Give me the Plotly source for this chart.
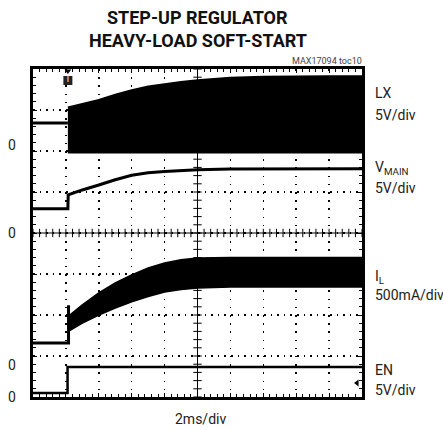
import numpy as np
import plotly.graph_objects as go

# ---- data (scope divisions: x 0..10 div, y 0..8 div) ----
trigger_t = 1.06

lx_pre_t = [0.0, 1.06]
lx_pre = [6.68, 6.68]
lx_t = [1.06, 1.5, 2.0, 2.5, 3.0, 3.5, 4.0, 4.5, 5.0, 6.0, 7.0, 8.0, 9.0, 10.0]
lx_top = [7.07, 7.15, 7.25, 7.38, 7.49, 7.58, 7.64, 7.69, 7.73, 7.79, 7.82, 7.83, 7.83, 7.83]
lx_bot = [5.96, 5.96, 5.96, 5.96, 5.96, 5.96, 5.96, 5.96, 5.96, 5.96, 5.96, 5.96, 5.96, 5.96]

vmain_t = [0.0, 1.06, 1.07, 1.5, 2.0, 2.5, 3.0, 3.5, 4.0, 5.0, 6.0, 10.0]
vmain = [4.59, 4.59, 4.93, 5.05, 5.17, 5.30, 5.41, 5.47, 5.50, 5.54, 5.56, 5.57]

il_pre_t = [0.0, 1.08, 1.08, 1.08]
il_pre = [1.32, 1.32, 2.24, 1.70]
il_t = [1.09, 1.5, 2.0, 2.5, 3.0, 3.5, 4.0, 4.5, 5.0, 6.0, 10.0]
il_top = [1.98, 2.25, 2.54, 2.78, 2.98, 3.15, 3.27, 3.35, 3.39, 3.40, 3.40]
il_bot = [1.61, 1.80, 2.00, 2.17, 2.32, 2.45, 2.56, 2.62, 2.66, 2.68, 2.68]

en_t = [0.0, 1.05, 1.05, 10.0]
en = [0.10, 0.10, 0.73, 0.73]

ch_labels = ["LX", "5V/div", "V<sub>MAIN</sub>", "5V/div", "I<sub>L</sub>", "500mA/div", "EN", "5V/div"]
ch_label_y = [7.41, 6.88, 5.59, 5.10, 2.93, 2.49, 0.66, 0.17]
zero_y = [6.15, 4.0, 0.78, 0.0]
en_marker_y = 0.34

FONT = "Roboto, Liberation Sans, sans-serif"

fig = go.Figure()

# LX
fig.add_trace(go.Scatter(x=lx_pre_t, y=lx_pre, mode="lines", line=dict(color="black", width=3)))
fig.add_trace(go.Scatter(x=lx_t + lx_t[::-1], y=lx_top + lx_bot[::-1], mode="lines",
                         fill="toself", fillcolor="black", line=dict(color="black", width=1.5)))
# VMAIN
fig.add_trace(go.Scatter(x=vmain_t, y=vmain, mode="lines", line=dict(color="black", width=3)))
# IL
fig.add_trace(go.Scatter(x=il_pre_t, y=il_pre, mode="lines", line=dict(color="black", width=3)))
fig.add_trace(go.Scatter(x=il_t + il_t[::-1], y=il_top + il_bot[::-1], mode="lines",
                         fill="toself", fillcolor="black", line=dict(color="black", width=1.5)))
# EN
fig.add_trace(go.Scatter(x=en_t, y=en, mode="lines", line=dict(color="black", width=2.5)))

# center graticule lines with cross ticks
fig.add_trace(go.Scatter(x=[0, 10], y=[4, 4], mode="lines", line=dict(color="black", width=1)))
fig.add_trace(go.Scatter(x=[5, 5], y=[0, 8], mode="lines", line=dict(color="black", width=1)))
tx = np.round(np.arange(0, 10.001, 0.2), 2)
ty = np.round(np.arange(0, 8.001, 0.2), 2)
fig.add_trace(go.Scatter(x=tx, y=np.full_like(tx, 4.0), mode="markers",
                         marker=dict(symbol="line-ns", size=6, line=dict(color="black", width=1))))
fig.add_trace(go.Scatter(x=np.full_like(ty, 5.0), y=ty, mode="markers",
                         marker=dict(symbol="line-ew", size=6, line=dict(color="black", width=1))))

# trigger marker
fig.add_trace(go.Scatter(x=[trigger_t], y=[7.95], mode="markers",
                         marker=dict(symbol="triangle-down", size=6, color="black")))
fig.add_trace(go.Scatter(x=[trigger_t], y=[7.72], mode="markers+text", text=["T"],
                         textposition="middle center",
                         textfont=dict(color="white", size=8, family="DejaVu Sans"),
                         marker=dict(symbol="square", size=9, color="#222")))
# EN ground arrow
fig.add_trace(go.Scatter(x=[9.85], y=[en_marker_y], mode="markers",
                         marker=dict(symbol="triangle-left", size=6, color="black")))

ax_common = dict(showgrid=True, gridcolor="black", gridwidth=1.5, zeroline=False,
                 showticklabels=False, ticks="inside", ticklen=4, tickcolor="black", tickwidth=1,
                 showline=True, linewidth=3, linecolor="black", mirror="ticks", dtick=1,
                 fixedrange=True)
fig.update_xaxes(range=[0, 10], tick0=0, griddash="1.5px,6.7px",
                 minor=dict(dtick=0.2, ticks="inside", ticklen=3, tickcolor="black", tickwidth=1, showgrid=False),
                 **ax_common)
fig.update_yaxes(range=[0, 8], tick0=0, griddash="1.5px,5.1px",
                 minor=dict(dtick=0.2, ticks="inside", ticklen=3, tickcolor="black", tickwidth=1, showgrid=False),
                 **ax_common)

ann = []
for lab, yv in zip(ch_labels, ch_label_y):
    ann.append(dict(text=lab, x=(373 - 33) / 329, y=yv, xref="paper", yref="y", xanchor="left",
                    yanchor="middle", showarrow=False, font=dict(family=FONT, size=14, color="#222")))
for yv in zero_y:
    ann.append(dict(text="0", x=(12 - 33) / 329, y=yv, xref="paper", yref="y", xanchor="center",
                    yanchor="middle", showarrow=False, font=dict(family=FONT, size=14, color="#222")))
ann.append(dict(text="<b>STEP-UP REGULATOR</b>", x=(197.5 - 33) / 329, y=(397 - 17) / 328,
                xref="paper", yref="paper", xanchor="center", yanchor="middle", showarrow=False,
                font=dict(family=FONT, size=18, color="#111")))
ann.append(dict(text="<b>HEAVY-LOAD SOFT-START</b>", x=(197.5 - 33) / 329, y=(397 - 41) / 328,
                xref="paper", yref="paper", xanchor="center", yanchor="middle", showarrow=False,
                font=dict(family=FONT, size=18, color="#111")))
ann.append(dict(text="MAX17094 toc10", x=(364 - 33) / 329, y=(397 - 61) / 328,
                xref="paper", yref="paper", xanchor="right", yanchor="middle", showarrow=False,
                font=dict(family=FONT, size=9, color="#444")))
ann.append(dict(text="2ms/div", x=(200 - 33) / 329, y=(397 - 419) / 328,
                xref="paper", yref="paper", xanchor="center", yanchor="middle", showarrow=False,
                font=dict(family=FONT, size=14, color="#222")))

fig.update_layout(width=443, height=430, margin=dict(l=33, r=81, t=69, b=33),
                  paper_bgcolor="white", plot_bgcolor="white", showlegend=False,
                  annotations=ann)

fig.write_html("out.html", config={"displayModeBar": False, "staticPlot": True},
               post_script="document.body.style.margin='0';document.body.style.overflow='hidden';")
